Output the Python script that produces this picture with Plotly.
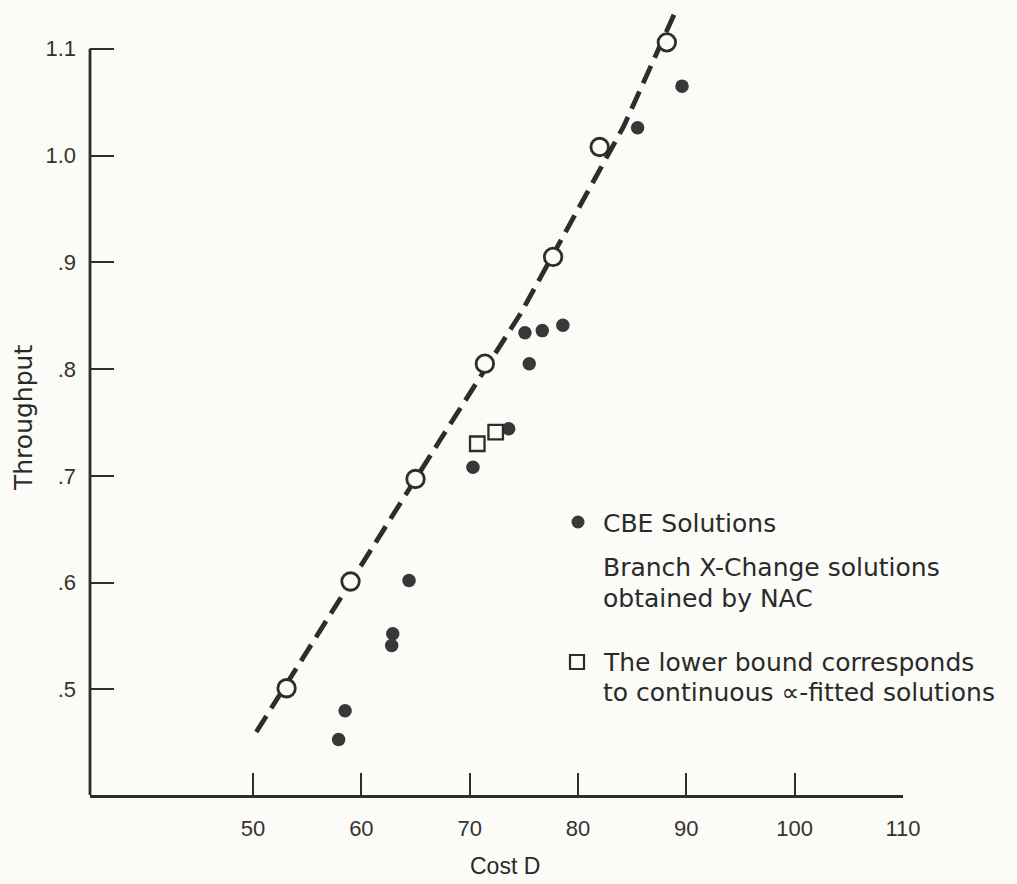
import plotly.graph_objects as go

# ---- data ----
nac_x = [53.1, 59.0, 65.0, 71.4, 77.7, 82.0, 88.2]
nac_y = [0.501, 0.601, 0.697, 0.805, 0.905, 1.008, 1.106]

cbe_x = [57.9, 58.5, 62.8, 62.9, 64.4, 70.3, 73.6, 75.1, 75.5, 76.7, 78.6, 85.5, 89.6]
cbe_y = [0.453, 0.480, 0.541, 0.552, 0.602, 0.708, 0.744, 0.834, 0.805, 0.836, 0.841, 1.026, 1.065]

bound_x = [70.7, 72.4]
bound_y = [0.730, 0.741]

fit_x = [50.3, 61.4, 67.3, 74.7, 84.2, 89.0]
fit_y = [0.460, 0.640, 0.734, 0.852, 1.027, 1.135]

x_ticks = [50, 60, 70, 80, 90, 100, 110]
x_tick_text = ["50", "60", "70", "80", "90", "100", "110"]
y_ticks = [0.5, 0.6, 0.7, 0.8, 0.9, 1.0, 1.1]
y_tick_text = [".5", ".6", ".7", ".8", ".9", "1.0", "1.1"]

legend_labels = ["CBE Solutions",
                 "Branch X-Change solutions",
                 "obtained by NAC",
                 "The lower bound corresponds",
                 "to continuous \u221d-fitted solutions"]

INK = "#2d2d2d"
BG = "#fbfbf7"
X_MIN, X_MAX = 34.95, 110.0
Y_MIN, Y_MAX = 0.401, 1.141

fig = go.Figure()

fig.add_trace(go.Scatter(
    x=fit_x, y=fit_y, mode="lines",
    line=dict(color=INK, width=4.8, dash="19px,9px"),
    hoverinfo="skip", showlegend=False))

fig.add_trace(go.Scatter(
    x=cbe_x, y=cbe_y, mode="markers",
    marker=dict(symbol="circle", size=13.5, color="#383838", line=dict(width=0)),
    showlegend=False))

fig.add_trace(go.Scatter(
    x=nac_x, y=nac_y, mode="markers",
    marker=dict(symbol="circle", size=17.5, color=BG, line=dict(color=INK, width=2.8)),
    showlegend=False))

fig.add_trace(go.Scatter(
    x=bound_x, y=bound_y, mode="markers",
    marker=dict(symbol="square", size=14.5, color="rgba(0,0,0,0)", line=dict(color=INK, width=2.3)),
    showlegend=False))

W, H = 1017, 884
ML, MR, MT, MB = 90, 114, 5, 89
PW, PH = W - ML - MR, H - MT - MB


def px(xp):
    return (xp - ML) / PW


def py(yp):
    return (H - MB - yp) / PH


shapes = [
    # y axis line from the bottom up to the top tick
    dict(type="line", xref="paper", yref="y", x0=0, x1=0, y0=Y_MIN, y1=y_ticks[-1],
         line=dict(color=INK, width=2.8)),
    # legend keys
    dict(type="circle", xref="paper", yref="paper", xsizemode="pixel", ysizemode="pixel",
         xanchor=px(578), yanchor=py(522), x0=-6.5, x1=6.5, y0=-6.5, y1=6.5,
         fillcolor="#383838", line=dict(width=0)),
    dict(type="rect", xref="paper", yref="paper", xsizemode="pixel", ysizemode="pixel",
         xanchor=px(577), yanchor=py(662), x0=-7, x1=7, y0=-7, y1=7,
         fillcolor="rgba(0,0,0,0)", line=dict(color=INK, width=2.2)),
]

legend_font = dict(family="DejaVu Sans", size=25, color="#2a2a2a")
legend_y = [523, 567, 598, 662, 692]
annotations = []
for label, ly in zip(legend_labels, legend_y):
    annotations.append(dict(text=label, xref="paper", yref="paper", x=px(601), y=py(ly),
                            xanchor="left", yanchor="middle", showarrow=False, font=legend_font))

annotations.append(dict(text="Cost D", xref="paper", yref="paper", x=px(505), y=py(866),
                        xanchor="center", yanchor="middle", showarrow=False,
                        font=dict(family="Liberation Sans", size=23, color="#2a2a2a")))
annotations.append(dict(text="Throughput", xref="paper", yref="paper", x=px(23), y=py(418),
                        xanchor="center", yanchor="middle", textangle=-90, showarrow=False,
                        font=dict(family="DejaVu Sans", size=25, color="#2a2a2a")))

fig.update_layout(
    width=W, height=H,
    margin=dict(l=ML, r=MR, t=MT, b=MB, pad=0),
    paper_bgcolor=BG, plot_bgcolor=BG,
    shapes=shapes, annotations=annotations,
    showlegend=False,
)

fig.update_xaxes(
    range=[X_MIN, X_MAX], tickvals=x_ticks, ticktext=x_tick_text,
    ticks="inside", ticklen=22, tickwidth=2.2, tickcolor=INK,
    showline=True, linecolor=INK, linewidth=2.6, mirror=False,
    showgrid=False, zeroline=False, ticklabelstandoff=12,
    tickfont=dict(family="Liberation Sans", size=22, color="#333333"),
)
fig.update_yaxes(
    range=[Y_MIN, Y_MAX], tickvals=y_ticks, ticktext=y_tick_text,
    ticks="inside", ticklen=24, tickwidth=2.4, tickcolor=INK,
    showline=False, showgrid=False, zeroline=False, ticklabelstandoff=13,
    tickfont=dict(family="Liberation Sans", size=22, color="#333333"),
)

fig.write_html(
    "out.html",
    config={"displayModeBar": False},
    post_script="document.body.style.margin='0px';document.body.style.background='" + BG + "';",
)
